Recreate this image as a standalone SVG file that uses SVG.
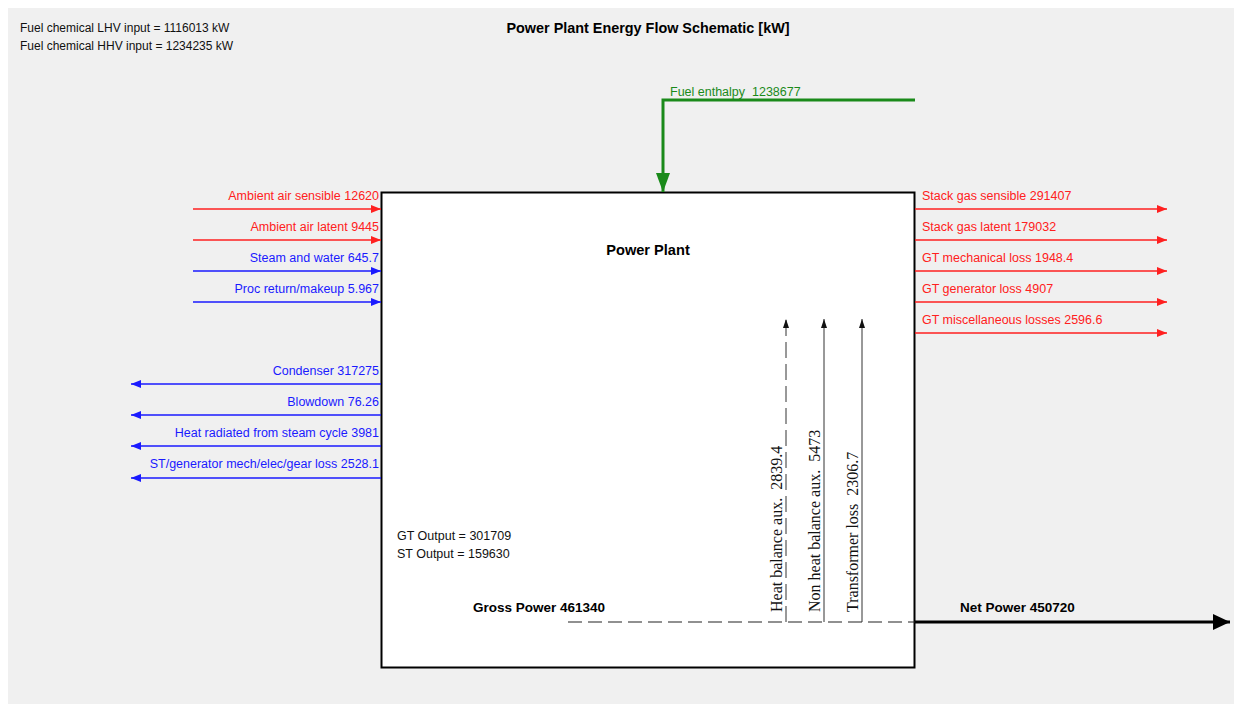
<svg xmlns="http://www.w3.org/2000/svg" width="1234" height="704" viewBox="0 0 1234 704">
<style>
.t{font-family:"Liberation Sans",Arial,sans-serif;font-size:12.5px}
.b{font-weight:bold;fill:#000}
.red{fill:#ff2020}
.blue{fill:#1a1aff}
.blk{fill:#111}
.grn{fill:#1a8a1a}
.ser{font-family:"Liberation Serif","Times New Roman",serif;font-size:16px;fill:#111}
.lr{stroke:#ff2020;stroke-width:1.3;fill:none}
.lb{stroke:#1a1aff;stroke-width:1.3;fill:none}
.lk{stroke:#333;stroke-width:1;fill:none}
</style>
<defs>
<marker id="mr" markerUnits="userSpaceOnUse" markerWidth="11" markerHeight="9" refX="10" refY="4.5" orient="auto"><path d="M0,0.5 L10,4.5 L0,8.5 z" fill="#ff2020"/></marker>
<marker id="mb" markerUnits="userSpaceOnUse" markerWidth="11" markerHeight="9" refX="10" refY="4.5" orient="auto"><path d="M0,0.5 L10,4.5 L0,8.5 z" fill="#1a1aff"/></marker>
<marker id="mk" markerUnits="userSpaceOnUse" markerWidth="10" markerHeight="7" refX="9" refY="3.5" orient="auto"><path d="M0,0.5 L9,3.5 L0,6.5 z" fill="#111"/></marker>
<marker id="mg" markerUnits="userSpaceOnUse" markerWidth="20" markerHeight="16" refX="19" refY="8" orient="auto"><path d="M0,1 L19,8 L0,15 z" fill="#1a8a1a"/></marker>
<marker id="mn" markerUnits="userSpaceOnUse" markerWidth="18" markerHeight="16" refX="17" refY="8" orient="auto"><path d="M0,0 L17,8 L0,16 z" fill="#000"/></marker>
</defs>
<rect x="0" y="0" width="1234" height="704" fill="#fff"/>
<rect x="8" y="8" width="1226" height="696" fill="#f0f0f0"/>
<g id="header">
<text class="t blk" x="20" y="32" style="font-size:12px">Fuel chemical LHV input = 1116013 kW</text>
<text class="t blk" x="20" y="50" style="font-size:12px">Fuel chemical HHV input = 1234235 kW</text>
<text class="t b" x="648" y="33" text-anchor="middle" style="font-size:14.4px">Power Plant Energy Flow Schematic [kW]</text>
</g>
<g id="power-plant">
<rect x="381.5" y="192.5" width="533" height="475" fill="#fff" stroke="#000" stroke-width="2"/>
<text class="t b" x="648" y="255" text-anchor="middle" style="font-size:14.6px">Power Plant</text>
<text class="t blk" x="397" y="540">GT Output = 301709</text>
<text class="t blk" x="397" y="558">ST Output = 159630</text>
<text class="t b" x="473" y="612" style="font-size:13.5px">Gross Power 461340</text>
</g>
<g id="connectors">
<path class="lr" d="M193,209 H381" marker-end="url(#mr)"/>
<path class="lr" d="M193,240 H381" marker-end="url(#mr)"/>
<path class="lb" d="M193,271 H381" marker-end="url(#mb)"/>
<path class="lb" d="M193,302 H381" marker-end="url(#mb)"/>
<path class="lb" d="M381,384 H131" marker-end="url(#mb)"/>
<path class="lb" d="M381,415 H131" marker-end="url(#mb)"/>
<path class="lb" d="M381,446 H131" marker-end="url(#mb)"/>
<path class="lb" d="M381,478 H131" marker-end="url(#mb)"/>
<path class="lr" d="M915,209 H1167" marker-end="url(#mr)"/>
<path class="lr" d="M915,240 H1167" marker-end="url(#mr)"/>
<path class="lr" d="M915,271 H1167" marker-end="url(#mr)"/>
<path class="lr" d="M915,302 H1167" marker-end="url(#mr)"/>
<path class="lr" d="M915,333 H1167" marker-end="url(#mr)"/>
<path d="M915,100 H663 V192" fill="none" stroke="#1a8a1a" stroke-width="3" marker-end="url(#mg)"/>
<path d="M568,622 H915" fill="none" stroke="#222" stroke-width="1.2" stroke-dasharray="14,6"/>
<path class="lk" d="M786,622 V319" stroke-dasharray="16,6" marker-end="url(#mk)"/>
<path class="lk" d="M824,622 V319" marker-end="url(#mk)"/>
<path class="lk" d="M862,622 V319" marker-end="url(#mk)"/>
<path d="M915,622 H1230" fill="none" stroke="#000" stroke-width="3" marker-end="url(#mn)"/>
</g>
<g id="labels">
<text class="t red" x="379" y="200" text-anchor="end">Ambient air sensible 12620</text>
<text class="t red" x="379" y="231" text-anchor="end">Ambient air latent 9445</text>
<text class="t blue" x="379" y="262" text-anchor="end">Steam and water 645.7</text>
<text class="t blue" x="379" y="293" text-anchor="end">Proc return/makeup 5.967</text>
<text class="t blue" x="379" y="375" text-anchor="end">Condenser 317275</text>
<text class="t blue" x="379" y="406" text-anchor="end">Blowdown 76.26</text>
<text class="t blue" x="379" y="437" text-anchor="end">Heat radiated from steam cycle 3981</text>
<text class="t blue" x="379" y="468" text-anchor="end">ST/generator mech/elec/gear loss 2528.1</text>
<text class="t red" x="922" y="200">Stack gas sensible 291407</text>
<text class="t red" x="922" y="231">Stack gas latent 179032</text>
<text class="t red" x="922" y="262">GT mechanical loss 1948.4</text>
<text class="t red" x="922" y="293">GT generator loss 4907</text>
<text class="t red" x="922" y="324">GT miscellaneous losses 2596.6</text>
<text class="t grn" x="670" y="96" xml:space="preserve">Fuel enthalpy  1238677</text>
<text class="ser" transform="translate(782,612) rotate(-90)" xml:space="preserve">Heat balance aux.  2839.4</text>
<text class="ser" transform="translate(820,612) rotate(-90)" xml:space="preserve">Non heat balance aux.  5473</text>
<text class="ser" transform="translate(858,612) rotate(-90)" xml:space="preserve">Transformer loss  2306.7</text>
<text class="t b" x="960" y="612" style="font-size:13.5px">Net Power 450720</text>
</g>
</svg>
